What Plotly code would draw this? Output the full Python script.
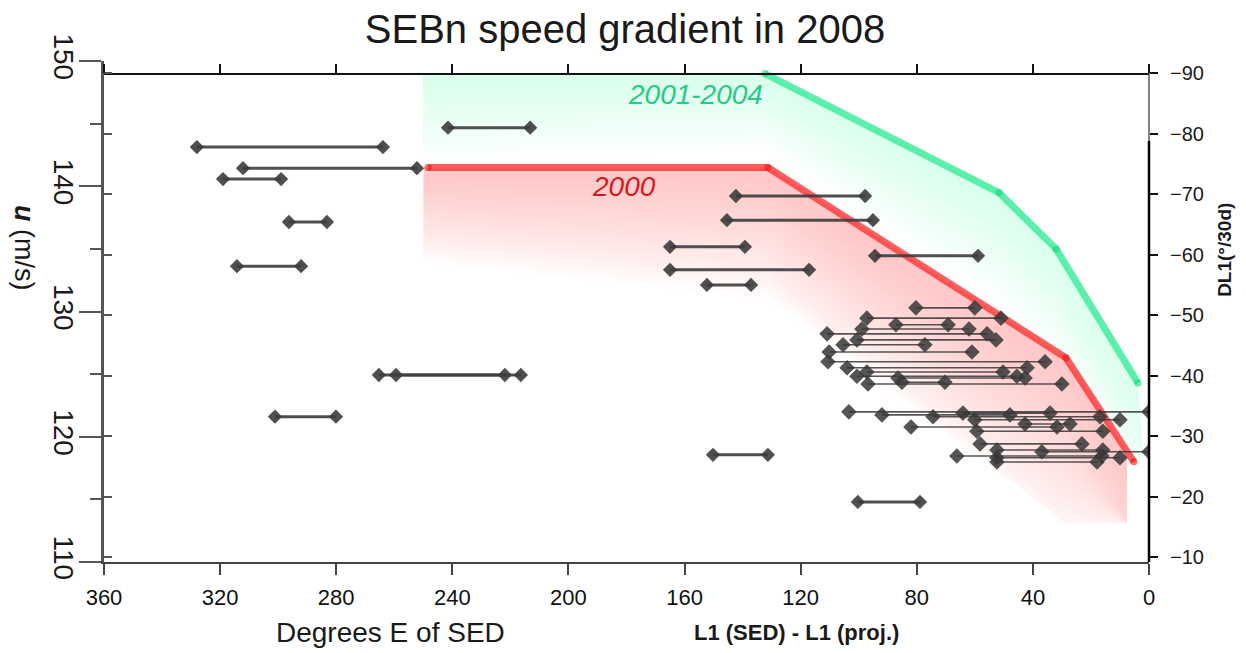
import numpy as np
import plotly.graph_objects as go

# ---------------- data ----------------
# speed-gradient envelope lines (x: degrees E of SED, y: u in m/s)
red_x = [248.4, 131.3, 28.6, 5.2]
red_u = [141.5, 141.5, 126.3, 118.0]
green_x = [132.3, 51.7, 32.0, 3.8]
green_u = [149.0, 139.5, 135.0, 124.3]

# isolated drift segments: start L1, end L1, DL1 (deg/30d)
iso_x0 = [328.0, 312.1, 319.0, 296.3, 314.2, 301.1, 265.3, 259.4, 241.5,
          142.3, 145.4, 165.0, 165.0, 152.3, 94.4, 150.2, 100.3]
iso_x1 = [263.9, 252.2, 299.0, 283.2, 292.1, 280.1, 221.9, 216.4, 213.2,
          97.8, 95.1, 139.2, 117.1, 137.1, 58.9, 131.3, 78.9]
iso_dl = [-77.8, -74.3, -72.5, -65.4, -58.1, -33.2, -40.1, -40.1, -81.0,
          -69.7, -65.7, -61.3, -57.5, -55.0, -59.8, -26.9, -19.1]

# clustered drift segments near SED
clu_x0 = [80.3, 97.2, 87.2, 98.9, 110.9, 100.6, 105.4, 110.2, 110.6, 104.0,
          97.2, 100.6, 86.5, 96.8, 85.1,
          103.4, 92.0, 74.4, 64.1, 60.0, 42.7, 82.0, 59.3, 58.2, 52.4,
          36.9, 66.2, 52.4, 52.4]
clu_x1 = [60.0, 51.0, 69.2, 62.0, 55.8, 52.7, 77.2, 61.0, 35.8, 42.0,
          50.3, 45.5, 42.7, 30.0, 70.3,
          0.0, 47.9, 16.9, 34.1, 10.0, 27.2, 31.7, 15.9, 23.1, 15.9,
          0.0, 16.2, 10.0, 17.9]
clu_dl = [-51.2, -49.5, -48.4, -47.7, -46.9, -45.9, -45.1, -43.9, -42.3, -41.3,
          -40.6, -39.9, -39.6, -38.6, -38.9,
          -34.0, -33.5, -33.2, -33.8, -32.7, -32.0, -31.5, -30.8, -28.7, -27.7,
          -27.4, -26.7, -26.4, -25.7]

left_ticks = [110, 120, 130, 140, 150]
left_minor = [115, 125, 135, 145]
right_ticks = [-90, -80, -70, -60, -50, -40, -30, -20, -10]
x_ticks = [0, 40, 80, 120, 160, 200, 240, 280, 320, 360]

# extents of the shaded (glow) regions
FILL_LEFT = 250.0
FILL_TOP = 149.0
GREEN_END = (2.1, 118.3)
RED_CUT_X = 7.6
RED_FLOOR = 113.1

fig = go.Figure()


def red_line_at(x):
    return float(np.interp(x, red_x[::-1], red_u[::-1]))


def add_bands(top_x, top_y, depth, n, alpha, rgb, floor_fn, power):
    for k in range(1, n + 1):
        f = (k / n) ** power
        bot = [max(y - d * f, floor_fn(x)) for x, y, d in zip(top_x, top_y, depth)]
        fig.add_trace(go.Scatter(
            x=list(top_x) + list(top_x)[::-1],
            y=list(top_y) + bot[::-1],
            fill='toself', mode='lines', line=dict(width=0),
            fillcolor=f'rgba({rgb},{alpha})', hoverinfo='skip', showlegend=False))


# green glow (2001-2004)
g_top_x = [FILL_LEFT] + green_x + [GREEN_END[0]]
g_top_y = [FILL_TOP] + green_u + [GREEN_END[1]]
add_bands(g_top_x, g_top_y, [7.0, 6.0, 8.8, 8.8, 8.8, 0.0], 18, 0.012,
          '70,238,160', red_line_at, 0.8)

# red glow (2000)
r_top_x = [FILL_LEFT] + red_x[1:3] + [RED_CUT_X]
r_top_y = [red_u[0]] + red_u[1:3] + [red_line_at(RED_CUT_X)]
add_bands(r_top_x, r_top_y, [7.6, 10.5, 15.2, 15.2], 18, 0.017,
          '255,60,60', lambda x: RED_FLOOR, 0.75)


def seg_xy(x0, x1, dl):
    xs, ys = [], []
    for a, b, d in zip(x0, x1, dl):
        xs += [a, b, None]
        ys += [d, d, None]
    return xs, ys


sx, sy = seg_xy(iso_x0, iso_x1, iso_dl)
fig.add_trace(go.Scatter(x=sx, y=sy, yaxis='y2', mode='lines+markers',
                         line=dict(color='rgba(60,60,60,0.9)', width=3),
                         marker=dict(symbol='diamond', size=11, color='rgba(60,60,60,0.9)'),
                         hoverinfo='skip', showlegend=False))
cx, cy = seg_xy(clu_x0, clu_x1, clu_dl)
fig.add_trace(go.Scatter(x=cx, y=cy, yaxis='y2', mode='lines+markers',
                         line=dict(color='rgba(55,55,55,0.85)', width=1.6),
                         marker=dict(symbol='diamond', size=12, color='rgba(55,55,55,0.85)'),
                         hoverinfo='skip', showlegend=False))

# envelope lines
fig.add_trace(go.Scatter(x=red_x, y=red_u, mode='lines+markers',
                         line=dict(color='rgba(255,40,40,0.75)', width=7),
                         marker=dict(size=7, color='rgba(240,20,20,0.6)'),
                         hoverinfo='skip', showlegend=False))
fig.add_trace(go.Scatter(x=green_x, y=green_u, mode='lines+markers',
                         line=dict(color='rgba(50,235,150,0.78)', width=7),
                         marker=dict(size=7, color='rgba(20,215,120,0.6)'),
                         hoverinfo='skip', showlegend=False))

# helper traces for the extra axes
fig.add_trace(go.Scatter(x=[None], y=[None], xaxis='x2', showlegend=False, hoverinfo='skip'))
fig.add_trace(go.Scatter(x=[None], y=[None], yaxis='y3', showlegend=False, hoverinfo='skip'))

FONT = 'Liberation Sans, Arial, sans-serif'

fig.update_layout(
    width=1246, height=653,
    margin=dict(l=104, r=97, t=61, b=91),
    paper_bgcolor='white', plot_bgcolor='white', showlegend=False,
    font=dict(family=FONT, color='#1a1a1a'),
    title=dict(text='SEBn speed gradient in 2008', x=0.5016, xanchor='center',
               xref='container', y=0.955, yref='container', yanchor='middle',
               font=dict(size=40, color='#1a1a1a', family=FONT)),
    xaxis=dict(range=[360, 0], tickvals=x_ticks, ticks='outside', ticklen=11,
               tickwidth=2, tickcolor='#444', showline=True, linecolor='#444',
               linewidth=2, showgrid=False, zeroline=False, ticklabelstandoff=4,
               tickfont=dict(size=22, color='#111', family=FONT)),
    xaxis2=dict(range=[360, 0], overlaying='x', anchor='free', position=0.974,
                side='top', tickvals=x_ticks, ticks='outside', ticklen=9,
                tickwidth=1.5, tickcolor='#111', showline=True, linecolor='#111',
                linewidth=1.5, showticklabels=False, showgrid=False, zeroline=False),
    yaxis=dict(range=[110, 150], tickvals=left_ticks, ticks='outside', ticklen=22,
               tickwidth=2, tickcolor='#555', showline=True, linecolor='#555',
               linewidth=3, tickangle=90, showgrid=False, zeroline=False,
               ticklabelstandoff=-9,
               tickfont=dict(size=28, color='#1a1a1a', family=FONT),
               minor=dict(tickvals=left_minor, ticks='outside', ticklen=11,
                          tickwidth=2, tickcolor='#555')),
    yaxis2=dict(range=[-9.17, -92.03], overlaying='y', side='right', anchor='x',
                tickvals=right_ticks, ticks='outside', ticklen=8, tickwidth=1.5,
                tickcolor='#111', showline=False, showgrid=False, zeroline=False,
                ticklabelstandoff=8,
                tickfont=dict(size=20, color='#1a1a1a', family=FONT)),
    yaxis3=dict(range=[-9.17, -92.03], overlaying='y', side='left', anchor='x',
                tickvals=right_ticks, ticks='inside', ticklen=8, tickwidth=1.5,
                tickcolor='#555', showticklabels=False, showline=False,
                showgrid=False, zeroline=False),
)

fig.add_shape(type='line', xref='paper', yref='y2', x0=1, x1=1, y0=-90, y1=-78.8,
              line=dict(color='#333', width=1.2))
fig.add_shape(type='line', xref='paper', yref='y2', x0=1, x1=1, y0=-78.8, y1=-9.17,
              line=dict(color='#000', width=2.5))

fig.add_annotation(text='<i>2001-2004</i>', x=156.4, y=147.3, xref='x', yref='y',
                   xanchor='center', yanchor='middle',
                   showarrow=False, font=dict(size=28, color='#27c986', family=FONT))
fig.add_annotation(text='<i>2000</i>', x=180.9, y=140.0, xref='x', yref='y',
                   xanchor='center', yanchor='middle',
                   showarrow=False, font=dict(size=28, color='#d41a1a', family=FONT))
fig.add_annotation(text='Degrees E of SED', x=0.2746, y=-0.1417, xref='paper', yref='paper',
                   xanchor='center', yanchor='middle',
                   showarrow=False, font=dict(size=28, color='#1a1a1a', family=FONT))
fig.add_annotation(text='<b>L1 (SED) - L1 (proj.)</b>', x=0.663, y=-0.1417,
                   xref='paper', yref='paper', showarrow=False,
                   xanchor='center', yanchor='middle',
                   font=dict(size=22, color='#1a1a1a', family=FONT))
fig.add_annotation(text='<b><i>u</i></b> (m/s)', x=-0.0766, y=0.627, xref='paper',
                   yref='paper', textangle=90, showarrow=False,
                   xanchor='center', yanchor='middle',
                   font=dict(size=27, color='#1a1a1a', family=FONT))
fig.add_annotation(text='<b>DL1(°/30d)</b>', x=1.0727, y=0.623, xref='paper',
                   yref='paper', textangle=-90, showarrow=False,
                   xanchor='center', yanchor='middle',
                   font=dict(size=19, color='#1a1a1a', family=FONT))

fig.write_html('out.html')
